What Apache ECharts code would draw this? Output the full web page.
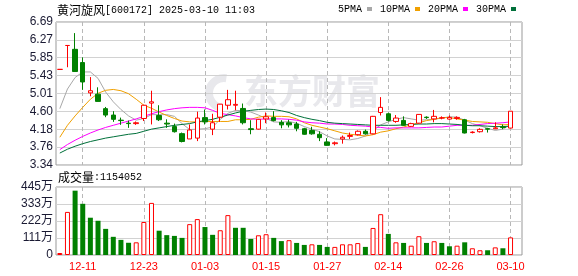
<!DOCTYPE html>
<html><head><meta charset="utf-8">
<script src="https://cdn.jsdelivr.net/npm/echarts@6/dist/echarts.min.js"></script>
<style>html,body{margin:0;padding:0;background:#fff}#c{width:578px;height:276px}</style>
</head><body><div id="c"></div>
<script>
const stockName = '黄河旋风';
const stockCode = '[600172]';
const stamp = '2025-03-10 11:03';
const lastVolume = '1154052';
const dates = ['12-06','12-09','12-10','12-11','12-12','12-13','12-16','12-17','12-18','12-19',
 '12-20','12-23','12-24','12-25','12-26','12-27','12-30','12-31','01-02','01-03',
 '01-06','01-07','01-08','01-09','01-10','01-13','01-14','01-15','01-16','01-17',
 '01-20','01-21','01-22','01-23','01-24','01-27','02-05','02-06','02-07','02-10',
 '02-11','02-12','02-13','02-14','02-17','02-18','02-19','02-20','02-21','02-24',
 '02-25','02-26','02-27','02-28','03-03','03-04','03-05','03-06','03-07','03-10'];
const labelDates = ['12-11','12-23','01-03','01-15','01-27','02-14','02-26','03-10'];
const opens = [5.58,6.14,6.05,5.74,5.03,5.00,4.66,4.51,4.39,4.32, 4.31,4.43,4.79,4.50,4.32,4.24,4.075,3.95,3.97,4.45,
 4.18,4.46,4.74,4.74,4.665,4.19,4.18,4.42,4.45,4.34, 4.33,4.30,4.19,4.15,4.06,3.88,3.84,3.95,4.01,4.05,
 4.13,4.07,4.57,4.54,4.36,4.385,4.245,4.32,4.46,4.42, 4.44,4.415,4.43,4.40,4.10,4.12,4.19,4.19,4.23,4.205];
const closes = [5.58,6.14,5.53,5.285,5.08,4.83,4.51,4.41,4.38,4.31, 4.33,4.74,4.82,4.40,4.30,4.12,3.89,4.16,4.44,4.35,
 4.33,4.765,4.87,4.76,4.33,4.17,4.41,4.47,4.38,4.28, 4.28,4.20,4.06,4.07,3.98,3.80,3.86,3.99,4.03,4.13,
 4.07,4.48,4.69,4.385,4.44,4.27,4.31,4.525,4.45,4.48, 4.445,4.455,4.455,4.09,4.11,4.175,4.18,4.21,4.22,4.60];
const lows = [5.58,5.63,5.52,5.10,4.95,4.83,4.46,4.35,4.28,4.21, 4.28,4.37,4.29,4.37,4.21,4.10,3.87,3.95,3.90,4.29,
 4.04,4.35,4.64,4.62,4.29,4.06,4.17,4.32,4.36,4.20, 4.22,4.13,4.05,4.05,3.90,3.79,3.80,3.84,3.95,4.03,
 4.05,4.06,4.50,4.36,4.33,4.26,4.23,4.31,4.42,4.34, 4.41,4.40,4.40,4.08,4.08,4.10,4.10,4.18,4.18,4.20];
const highs = [5.58,6.14,6.43,5.86,5.40,5.16,4.70,4.60,4.45,4.38, 4.36,4.75,5.08,4.74,4.41,4.31,4.10,4.29,4.59,4.64,
 4.54,4.77,5.10,5.08,4.78,4.39,4.42,4.57,4.60,4.39, 4.40,4.35,4.21,4.235,4.13,3.97,3.89,4.03,4.10,4.15,
 4.17,4.49,4.93,4.57,4.51,4.48,4.33,4.53,4.48,4.63, 4.48,4.50,4.48,4.42,4.13,4.20,4.21,4.34,4.29,4.60];
// volume in 万股
const volumes = [13,282,421,335,244,224,171,119,99,80, 83,216,341,159,130,125,112,202,235,183,
 132,162,261,178,178,105,129,136,112,91, 97,79,66,70,66,53,53,70,70,78,
 53,177,267,138,83,79,61,123,79,90, 79,57,61,83,44,31,31,50,44,115.4052];
const volUp = [1,1,0,0,0,0,0,0,0,0, 1,1,1,0,0,0,0,1,1,0, 0,1,1,0,0,0,1,1,0,0,
 1,0,0,1,0,0,1,1,1,1, 0,1,1,0,1,0,1,1,0,1, 0,0,1,0,1,1,0,1,0,1];
const ma5 = [4.66,5.12,5.39,5.52,5.52,5.37,5.05,4.82,4.64,4.49, 4.39,4.43,4.52,4.52,4.52,4.48,4.31,4.17,4.18,4.19,
 4.23,4.41,4.55,4.62,4.61,4.58,4.51,4.43,4.35,4.34, 4.36,4.32,4.24,4.18,4.12,4.02,3.95,3.94,3.93,3.96,
 4.02,4.14,4.28,4.35,4.41,4.45,4.42,4.39,4.40,4.41, 4.44,4.47,4.46,4.39,4.31,4.26,4.20,4.15,4.18,4.28];
const ma10 = [3.99,4.27,4.49,4.69,4.88,5.02,5.09,5.11,5.08,5.01, 4.88,4.74,4.67,4.58,4.50,4.43,4.37,4.35,4.35,4.36,
 4.36,4.36,4.36,4.40,4.40,4.41,4.46,4.49,4.48,4.48, 4.47,4.42,4.33,4.27,4.23,4.19,4.14,4.09,4.06,4.04,
 4.02,4.05,4.11,4.14,4.19,4.23,4.28,4.33,4.38,4.41, 4.45,4.45,4.42,4.39,4.36,4.35,4.34,4.31,4.28,4.29];
const ma20 = [3.70,3.82,3.92,4.01,4.09,4.16,4.22,4.27,4.32,4.37, 4.42,4.48,4.54,4.59,4.63,4.66,4.68,4.69,4.69,4.68,
 4.62,4.55,4.52,4.49,4.45,4.42,4.41,4.42,4.42,4.42, 4.41,4.39,4.35,4.33,4.32,4.30,4.30,4.29,4.27,4.26,
 4.25,4.23,4.22,4.20,4.21,4.21,4.21,4.21,4.22,4.23, 4.23,4.25,4.27,4.27,4.27,4.29,4.31,4.32,4.33,4.35];
const ma30 = [3.62,3.71,3.78,3.84,3.89,3.93,3.97,4.00,4.03,4.06, 4.08,4.13,4.18,4.21,4.24,4.27,4.29,4.31,4.35,4.38,
 4.41,4.46,4.51,4.56,4.60,4.62,4.64,4.65,4.64,4.61, 4.57,4.50,4.45,4.41,4.38,4.34,4.32,4.31,4.30,4.29,
 4.28,4.27,4.27,4.27,4.27,4.28,4.29,4.30,4.30,4.31, 4.31,4.30,4.29,4.27,4.26,4.26,4.25,4.24,4.24,4.25];
const priceTicks = ['3.34','3.76','4.18','4.60','5.01','5.43','5.85','6.27','6.69'];
const volTicks = ['0','111万','222万','333万','445万'];
const maNames = ['5PMA','10PMA','20PMA','30PMA'];
const maColors = ['#a8a8a8','#f0a000','#ff00ff','#00703a'];

const cats = dates.concat(['']);
const pMin = 3.34, pMax = 6.69, pStep = (pMax - pMin) / 8;
const vMax = 445, vStep = vMax / 4;
const RED = '#ff0000', GREEN = '#008000';
const isLabelDate = (i, v) => labelDates.indexOf(v) >= 0;

const chart = echarts.init(document.getElementById('c'), null, {renderer: 'canvas'});
const vSplit = {
  show: true, interval: isLabelDate, alignWithLabel: true,
  lineStyle: {color: '#b8b8b8', type: [4, 3], width: 1}
};
const maSeries = [ma5, ma10, ma20, ma30].map((arr, k) => ({
  name: maNames[k], type: 'line', xAxisIndex: 0, yAxisIndex: 0,
  data: arr, symbol: 'none', smooth: false,
  lineStyle: {color: maColors[k], width: 1}, itemStyle: {color: maColors[k]},
  z: 3
}));
const richText = {
  a: {fontFamily: '"Noto Sans CJK SC"', fontSize: 12, color: '#000', fontWeight: 'normal'},
  b: {fontFamily: '"Liberation Mono"', fontSize: 10, color: '#000', fontWeight: 'normal'}
};
chart.setOption({
  animation: false,
  backgroundColor: '#fff',
  title: [{
    left: 57, top: 4, padding: 0,
    text: '{a|' + stockName + '}{b|' + stockCode + ' ' + stamp + '}',
    textStyle: {fontWeight: 'normal', rich: richText}
  }, {
    left: 58, top: 171, padding: 0,
    text: '{a|成交量}{b|:' + lastVolume + '}',
    textStyle: {fontWeight: 'normal', rich: richText}
  }],
  legend: {
    left: 338, top: 4, padding: 0, align: 'right', icon: 'rect',
    itemWidth: 5, itemHeight: 4, itemGap: 8, selectedMode: false,
    data: maNames,
    textStyle: {fontFamily: '"Liberation Mono"', fontSize: 10, color: '#000'}
  },
  graphic: [{
    type: 'sector', z: 0, silent: true,
    shape: {cx: 224, cy: 93, r: 19, r0: 11, startAngle: Math.PI * 0.55, endAngle: Math.PI * 1.55},
    style: {fill: '#e8e8ec'}
  }, {
    type: 'text', left: 244, top: 74, z: 0, silent: true,
    style: {text: '东方财富', font: 'bold 34px "Noto Sans CJK SC"', fill: '#e8e8ec'}
  }],
  grid: [
    {left: 56, right: 56, top: 22, height: 143, show: true, borderColor: '#999', borderWidth: 1, backgroundColor: 'transparent'},
    {left: 56, right: 56, top: 187, height: 68, show: true, borderColor: '#999', borderWidth: 1, backgroundColor: 'transparent'}
  ],
  xAxis: [
    {type: 'category', gridIndex: 0, data: cats, boundaryGap: true,
     axisLine: {show: false}, axisTick: {show: false}, axisLabel: {show: false}, splitLine: vSplit},
    {type: 'category', gridIndex: 1, data: cats, boundaryGap: true,
     axisLine: {show: false}, axisTick: {show: false}, splitLine: vSplit,
     axisLabel: {
       interval: isLabelDate,
       color: RED, fontFamily: '"Liberation Sans"', fontSize: 11, margin: 6
     }}
  ],
  yAxis: [
    {type: 'value', gridIndex: 0, min: pMin, max: pMax, interval: pStep,
     axisLine: {show: false}, axisTick: {show: false},
     splitLine: {lineStyle: {color: '#d2d2d2', width: 1}},
     axisLabel: {formatter: v => priceTicks[Math.round((v - pMin) / pStep)],
       color: '#1a1a33', fontFamily: '"Liberation Sans"', fontSize: 12, margin: 3}},
    {type: 'value', gridIndex: 1, min: 0, max: vMax, interval: vStep,
     axisLine: {show: false}, axisTick: {show: false},
     splitLine: {lineStyle: {color: '#d2d2d2', width: 1}},
     axisLabel: {formatter: v => volTicks[Math.round(v / vStep)],
       color: '#1a1a33', fontFamily: '"Liberation Sans", "Noto Sans CJK SC"', fontSize: 12, margin: 3}}
  ],
  series: [
    {
      name: 'K', type: 'candlestick', xAxisIndex: 0, yAxisIndex: 0,
      barWidth: 5,
      data: dates.map((d, i) => [opens[i], closes[i], lows[i], highs[i]]),
      itemStyle: {color: '#ffffff', color0: GREEN, borderColor: RED, borderColor0: GREEN, borderColorDoji: RED, borderWidth: 1},
      z: 4
    },
    ...maSeries,
    {
      name: 'VOL', type: 'bar', xAxisIndex: 1, yAxisIndex: 1, barWidth: 5,
      data: volumes.map((v, i) => ({value: v, itemStyle: volUp[i]
        ? {color: '#ffffff', borderColor: RED, borderWidth: 1}
        : {color: GREEN, borderColor: GREEN, borderWidth: 0}})),
      z: 3
    }
  ]
});
</script>
</body></html>
